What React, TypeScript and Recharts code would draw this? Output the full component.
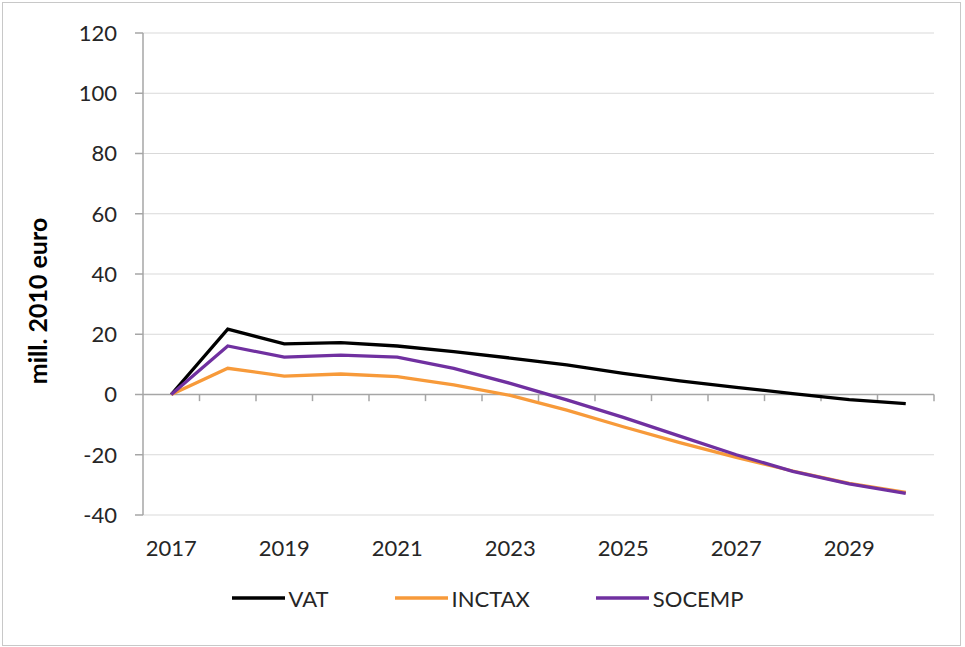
import React from "react";
import {
  LineChart,
  Line,
  XAxis,
  YAxis,
  CartesianGrid,
  ReferenceLine,
} from "recharts";

const YEARS = [2017, 2018, 2019, 2020, 2021, 2022, 2023, 2024, 2025, 2026, 2027, 2028, 2029, 2030];
const VAT = [0, 21.7, 16.8, 17.2, 16.1, 14.2, 12.1, 9.8, 7.0, 4.5, 2.4, 0.3, -1.7, -3.0];
const INCTAX = [0, 8.7, 6.1, 6.8, 5.9, 3.2, -0.3, -5.2, -10.7, -16.0, -20.9, -25.4, -29.5, -32.5];
const SOCEMP = [0, 16.1, 12.4, 13.1, 12.4, 8.7, 3.7, -1.8, -7.6, -13.8, -20.0, -25.5, -29.7, -32.8];

const Y_TICKS = [-40, -20, 0, 20, 40, 60, 80, 100, 120];
const X_LABELS = [2017, 2019, 2021, 2023, 2025, 2027, 2029];

const SERIES = [
  { key: "VAT", color: "#000000", values: VAT },
  { key: "INCTAX", color: "#F79A3A", values: INCTAX },
  { key: "SOCEMP", color: "#7030A0", values: SOCEMP },
];

const FONT = "Lato, 'Open Sans', sans-serif";
const AXIS_GRAY = "#a6a6a6";
const TEXT = "#262626";

const data = YEARS.map((year, i) => {
  const row: Record<string, number> = { year };
  SERIES.forEach((s) => (row[s.key] = s.values[i]));
  return row;
});

// category boundaries, where Excel puts the small tick marks on the zero line
const boundaries = YEARS.map((y) => y + 0.5);

function YTitle() {
  return (
    <text
      x={37}
      y={301}
      transform="rotate(-90 37 301)"
      textAnchor="middle"
      dominantBaseline="central"
      fontFamily={FONT}
      fontWeight={700}
      fontSize={25}
      fill="#000"
    >
      mill. 2010 euro
    </text>
  );
}

export default function App() {
  return (
    <div style={{ position: "absolute", left: 0, top: 0, width: 965, height: 647, background: "#fff" }}>
      <div
        style={{
          position: "absolute",
          left: 2,
          top: 2,
          width: 959,
          height: 644,
          boxSizing: "border-box",
          border: "1px solid #c8c8c8",
        }}
      />
      <LineChart
        width={965}
        height={647}
        data={data}
        margin={{ top: 33, right: 31, left: 63, bottom: 92 }}
        style={{ position: "absolute", left: 0, top: 0, fontFamily: FONT }}
      >
        <CartesianGrid vertical={false} stroke="#d9d9d9" />
        <XAxis
          dataKey="year"
          type="number"
          domain={[2016.5, 2030.5]}
          ticks={X_LABELS}
          tickLine={false}
          axisLine={false}
          tickSize={0}
          tickMargin={25}
          height={40}
          tick={{ fontSize: 22, fill: TEXT, fontFamily: FONT }}
        />
        <YAxis
          domain={[-40, 120]}
          ticks={Y_TICKS}
          width={80}
          tickSize={8}
          tickMargin={18}
          axisLine={{ stroke: AXIS_GRAY, strokeWidth: 1.5 }}
          tickLine={{ stroke: AXIS_GRAY, strokeWidth: 1.5 }}
          tick={{ fontSize: 22, fill: TEXT, fontFamily: FONT }}
          label={<YTitle />}
        />
        <ReferenceLine y={0} stroke={AXIS_GRAY} strokeWidth={1.5} />
        {boundaries.map((b) => (
          <ReferenceLine
            key={b}
            segment={[
              { x: b, y: 0 },
              { x: b, y: -2.2 },
            ]}
            stroke={AXIS_GRAY}
            strokeWidth={1.5}
          />
        ))}
        {SERIES.map((s) => (
          <Line
            key={s.key}
            type="linear"
            dataKey={s.key}
            stroke={s.color}
            strokeWidth={3.3}
            dot={false}
            isAnimationActive={false}
          />
        ))}
      </LineChart>

      {/* Legend */}
      <div
        style={{
          position: "absolute",
          left: 0,
          top: 584,
          width: 965,
          display: "flex",
          justifyContent: "center",
          gap: 66,
          paddingLeft: 10,
          boxSizing: "border-box",
          fontFamily: FONT,
          fontSize: 22,
          color: TEXT,
        }}
      >
        {SERIES.map((s) => (
          <div key={s.key} style={{ display: "flex", alignItems: "center", height: 28 }}>
            <svg width={53} height={6} style={{ marginRight: 4 }}>
              <line x1={0} y1={3} x2={53} y2={3} stroke={s.color} strokeWidth={3.5} />
            </svg>
            <span>{s.key}</span>
          </div>
        ))}
      </div>
    </div>
  );
}
